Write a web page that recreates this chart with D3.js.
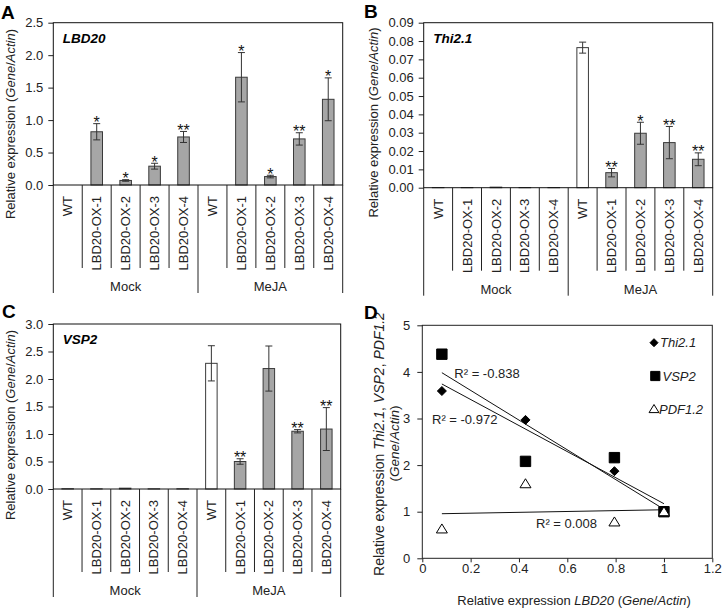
<!DOCTYPE html>
<html>
<head>
<meta charset="utf-8">
<script src="https://cdn.jsdelivr.net/npm/d3@7"></script>
<style>
  body { margin: 0; background: #fff; }
  svg { font-family: "Liberation Sans", Arial, sans-serif; }
</style>
</head>
<body>
<svg id="fig" width="722" height="611"></svg>
<script>
// ---- data ----
var categories = ["WT", "LBD20-OX-1", "LBD20-OX-2", "LBD20-OX-3", "LBD20-OX-4"];
var treatments = ["Mock", "MeJA"];

var lbd20Mean = [0, 0.82, 0.07, 0.29, 0.74, 0, 1.66, 0.13, 0.71, 1.32];
var lbd20Err  = [0, 0.125, 0.012, 0.045, 0.085, 0, 0.38, 0.02, 0.095, 0.33];
var lbd20Sig  = ["", "*", "*", "*", "**", "", "*", "*", "**", "*"];

var thiMean = [0.0001, 0.0001, 0.0003, 0.0001, 0.0001, 0.0764, 0.0082, 0.0297, 0.0246, 0.0155];
var thiErr  = [0, 0, 0, 0, 0, 0.003, 0.0023, 0.006, 0.0088, 0.0035];
var thiSig  = ["", "", "", "", "", "", "**", "*", "**", "**"];

var vspMean = [0.005, 0.003, 0.015, 0.003, 0.004, 2.285, 0.50, 2.19, 1.05, 1.09];
var vspErr  = [0, 0, 0, 0, 0, 0.32, 0.05, 0.41, 0.03, 0.39];
var vspSig  = ["", "", "", "", "", "", "**", "", "**", "**"];

var lbd20Rel = [0.081, 0.427, 0.795, 1.0];
var thiRel   = [3.59, 2.97, 1.87, 1.0];
var vspRel   = [4.38, 2.08, 2.16, 1.0];
var pdfRel   = [0.63, 1.60, 0.78, 1.0];
var r2Labels = ["R\u00b2 = -0.838", "R\u00b2 = -0.972", "R\u00b2 = 0.008"];

var xTicksD = [0, 0.2, 0.4, 0.6, 0.8, 1, 1.2];
var yTicksD = [0, 1, 2, 3, 4, 5];

var svg = d3.select("#fig");
var FS = 13;

function letter(txt, x, y) {
  svg.append("text").attr("x", x).attr("y", y)
    .style("font-size", "19px").style("font-weight", "bold").text(txt);
}

function yTitle(x, y, parts, size) {
  var t = svg.append("text")
    .attr("transform", "translate(" + x + "," + y + ") rotate(-90)")
    .attr("text-anchor", "middle").attr("dy", "0.35em")
    .style("font-size", (size || FS) + "px").attr("fill", "#222");
  parts.forEach(function(p) {
    t.append("tspan").style("font-style", p[1] ? "italic" : "normal").text(p[0]);
  });
}

function barPanel(c) {
  var labels = [];
  treatments.forEach(function() { categories.forEach(function(k) { labels.push(k); }); });
  var x = d3.scaleBand().domain(d3.range(labels.length)).range([c.left, c.right]).padding(0);
  var y = d3.scaleLinear().domain([0, c.ymax]).range([c.zero, c.top]);
  var g = svg.append("g");
  var bw = x.bandwidth() * 0.4;

  var yAxis = d3.axisLeft(y)
    .tickValues(d3.range(0, c.ymax + c.step / 2, c.step))
    .tickFormat(d3.format(c.fmt)).tickSize(5).tickPadding(5);
  var ax = g.append("g").attr("transform", "translate(" + c.left + ",0)").call(yAxis);
  ax.select(".domain").remove();
  ax.selectAll("text").style("font-size", FS + "px").attr("fill", "#222");
  ax.selectAll("line").attr("stroke", "#222");

  // bars
  g.selectAll("rect.bar").data(c.means).enter().append("rect")
    .attr("x", function(d, i) { return x(i) + (x.bandwidth() - bw) / 2; })
    .attr("y", function(d) { return y(d); })
    .attr("width", bw)
    .attr("height", function(d) { return c.zero - y(d); })
    .attr("fill", function(d, i) { return (i === 5 && c.whiteWT) ? "#fff" : "#a6a6a6"; })
    .attr("stroke", "#3a3a3a").attr("stroke-width", 1);

  // error bars
  c.means.forEach(function(m, i) {
    var e = c.errs[i];
    if (!e) return;
    var cx = x(i) + x.bandwidth() / 2;
    g.append("line").attr("x1", cx).attr("x2", cx).attr("y1", y(m + e)).attr("y2", y(m - e))
      .attr("stroke", "#333");
    [m + e, m - e].forEach(function(v) {
      g.append("line").attr("x1", cx - 3.5).attr("x2", cx + 3.5).attr("y1", y(v)).attr("y2", y(v))
        .attr("stroke", "#333");
    });
    if (c.sigs[i]) {
      g.append("text").attr("x", cx).attr("y", y(m + e) + 4.5).attr("text-anchor", "middle")
        .style("font-size", "16px").attr("fill", "#111").text(c.sigs[i]);
    }
  });

  // frame
  g.append("rect").attr("x", c.left).attr("y", c.top)
    .attr("width", c.right - c.left).attr("height", c.zero - c.top)
    .attr("fill", "none").attr("stroke", "#111").attr("stroke-width", 1);

  // category labels and separators
  labels.forEach(function(k, i) {
    var cx = x(i) + x.bandwidth() / 2;
    g.append("text").attr("transform", "translate(" + cx + "," + (c.zero + 11) + ") rotate(-90)")
      .attr("text-anchor", "end").attr("dy", "0.35em")
      .style("font-size", FS + "px").attr("fill", "#222").text(k);
  });
  d3.range(labels.length + 1).forEach(function(i) {
    var xx = i < labels.length ? x(i) : c.right;
    var long = (i % categories.length === 0);
    g.append("line").attr("x1", xx).attr("x2", xx)
      .attr("y1", c.zero).attr("y2", c.zero + (long ? 108 : 83))
      .attr("stroke", "#222");
  });
  treatments.forEach(function(t, j) {
    var x0 = x(j * categories.length);
    var x1 = j === treatments.length - 1 ? c.right : x((j + 1) * categories.length);
    g.append("text").attr("x", (x0 + x1) / 2).attr("y", c.zero + 106)
      .attr("text-anchor", "middle").style("font-size", FS + "px").attr("fill", "#222").text(t);
  });

  g.append("text").attr("x", c.left + 9.5).attr("y", c.top + 20)
    .style("font-size", "13.5px").style("font-weight", "bold").style("font-style", "italic")
    .text(c.gene);

  yTitle(c.titleX, c.titleY, [["Relative expression (", 0], ["Gene", 1], ["/", 0], ["Actin", 1], [")", 0]]);
  letter(c.letter, c.letterX, c.letterY);
}

barPanel({ left: 53.3, right: 342.7, top: 22.7, zero: 185, ymax: 2.5, step: 0.5, fmt: ".1f",
  means: lbd20Mean, errs: lbd20Err, sigs: lbd20Sig, gene: "LBD20", whiteWT: false,
  titleX: 10, titleY: 124, letter: "A", letterX: 1, letterY: 18.5 });
barPanel({ left: 423.7, right: 712.7, top: 22.7, zero: 187.7, ymax: 0.09, step: 0.01, fmt: ".2f",
  means: thiMean, errs: thiErr, sigs: thiSig, gene: "Thi2.1", whiteWT: true,
  titleX: 373, titleY: 122.5, letter: "B", letterX: 364, letterY: 17.5 });
barPanel({ left: 53.3, right: 340.7, top: 324, zero: 489, ymax: 3.0, step: 0.5, fmt: ".1f",
  means: vspMean, errs: vspErr, sigs: vspSig, gene: "VSP2", whiteWT: true,
  titleX: 10, titleY: 425, letter: "C", letterX: 2, letterY: 317.5 });

// ---- panel D: scatter with linear fits ----
(function() {
  var L = 422.3, R = 712.3, T = 325.3, B = 558.3;
  var x = d3.scaleLinear().domain([0, 1.2]).range([L, R]);
  var y = d3.scaleLinear().domain([0, 5]).range([B, T]);
  var g = svg.append("g");
  var fmt = d3.format("~g");

  var xa = g.append("g").attr("transform", "translate(0," + B + ")")
    .call(d3.axisBottom(x).tickValues(xTicksD).tickFormat(fmt).tickSize(4).tickPadding(1));
  var ya = g.append("g").attr("transform", "translate(" + L + ",0)")
    .call(d3.axisLeft(y).tickValues(yTicksD).tickFormat(fmt).tickSize(5).tickPadding(7));
  [xa, ya].forEach(function(a) {
    a.select(".domain").remove();
    a.selectAll("text").style("font-size", FS + "px").attr("fill", "#222");
    a.selectAll("line").attr("stroke", "#222");
  });
  g.append("rect").attr("x", L).attr("y", T).attr("width", R - L).attr("height", B - T)
    .attr("fill", "none").attr("stroke", "#222");

  function fit(xs, ys) {
    var mx = d3.mean(xs), my = d3.mean(ys);
    var sxy = d3.sum(xs, function(v, i) { return (v - mx) * (ys[i] - my); });
    var sxx = d3.sum(xs, function(v) { return (v - mx) * (v - mx); });
    var b = sxy / sxx;
    return function(v) { return my + b * (v - mx); };
  }
  var xMin = d3.min(lbd20Rel), xMax = d3.max(lbd20Rel);
  [vspRel, thiRel, pdfRel].forEach(function(ys) {
    var f = fit(lbd20Rel, ys);
    g.append("line").attr("x1", x(xMin)).attr("y1", y(f(xMin)))
      .attr("x2", x(xMax)).attr("y2", y(f(xMax))).attr("stroke", "#111").attr("stroke-width", 1);
  });

  function diamond(s) { return "M0," + (-s) + "L" + s + ",0L0," + s + "L" + (-s) + ",0Z"; }
  function square(s) { return "M" + (-s) + "," + (-s) + "h" + (2 * s) + "v" + (2 * s) + "h" + (-2 * s) + "Z"; }
  function tri(s) { return "M0," + (-s) + "L" + (s * 1.1) + "," + (s * 0.8) + "L" + (-s * 1.1) + "," + (s * 0.8) + "Z"; }

  var series = [
    { ys: thiRel, path: diamond(4.5), fill: "#000", stroke: "#000", name: "Thi2.1", lp: diamond(4), ly: 342.7, lx: 654, tx: 660 },
    { ys: vspRel, path: square(5.2), fill: "#000", stroke: "#000", name: "VSP2", lp: square(4.6), ly: 376, lx: 655.3, tx: 662.5 },
    { ys: pdfRel, path: tri(5), fill: "#fff", stroke: "#000", name: "PDF1.2", lp: tri(4.5), ly: 409, lx: 654, tx: 659 }
  ];
  series.forEach(function(s) {
    g.selectAll(null).data(s.ys).enter().append("path")
      .attr("d", s.path)
      .attr("transform", function(d, i) { return "translate(" + x(lbd20Rel[i]) + "," + y(d) + ")"; })
      .attr("fill", s.fill).attr("stroke", s.stroke).attr("stroke-width", 1);
    g.append("path").attr("d", s.lp).attr("transform", "translate(" + s.lx + "," + s.ly + ")")
      .attr("fill", s.fill).attr("stroke", s.stroke);
    g.append("text").attr("x", s.tx).attr("y", s.ly + 4.7).style("font-size", FS + "px")
      .style("font-style", "italic").attr("fill", "#222").text(s.name);
  });

  var r2Pos = [[454.3, 377.5], [432, 424], [536, 527.5]];
  r2Labels.forEach(function(t, i) {
    g.append("text").attr("x", r2Pos[i][0]).attr("y", r2Pos[i][1])
      .style("font-size", FS + "px").attr("fill", "#222").text(t);
  });

  var xt = g.append("text").attr("x", 574).attr("y", 605).attr("text-anchor", "middle")
    .style("font-size", FS + "px").attr("fill", "#222");
  [["Relative expression ", 0], ["LBD20", 1], [" (", 0], ["Gene", 1], ["/", 0], ["Actin", 1], [")", 0]]
    .forEach(function(p) { xt.append("tspan").style("font-style", p[1] ? "italic" : "normal").text(p[0]); });

  yTitle(379.3, 444, [["Relative expression ", 0], ["Thi2.1", 1], [", ", 0], ["VSP2", 1], [", ", 0], ["PDF1.2", 1]], 14);
  yTitle(394.3, 443.5, [["(", 0], ["Gene", 1], ["/", 0], ["Actin", 1], [")", 0]], 13.5);
  letter("D", 364, 319);
})();
</script>
</body>
</html>
